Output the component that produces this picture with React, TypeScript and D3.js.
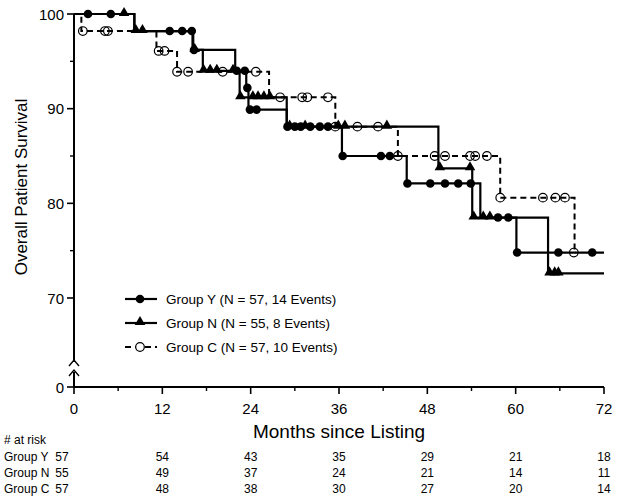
// App.tsx
import React, { useEffect, useRef } from "react";
import * as d3 from "d3";

const width = 627;
const height = 496;

// step points [month, survival %] ; each point is the level after a drop
const groupYSteps = [
  [0, 100], [8.2, 98.2], [16.1, 96.2], [21.9, 94.0], [23.4, 92.2], [23.7, 89.9],
  [28.9, 88.1], [36.4, 85.0], [45.2, 82.1], [55.2, 78.5], [60.1, 74.8], [72, 74.8],
];
const groupYCensored = [
  [1.9, 100], [5.0, 100], [13.0, 98.2], [14.7, 98.2], [16.0, 98.2], [16.3, 96.2],
  [22.1, 94.0], [23.2, 94.0], [23.55, 92.2], [23.9, 89.9], [24.8, 89.9],
  [29.0, 88.1], [30.0, 88.1], [30.8, 88.1], [32.1, 88.1], [33.4, 88.1], [34.5, 88.1],
  [36.5, 85.0], [41.7, 85.0], [42.9, 85.0],
  [45.3, 82.1], [48.4, 82.1], [50.4, 82.1], [52.2, 82.1], [53.9, 82.1],
  [57.6, 78.5], [59.0, 78.5], [60.2, 74.8], [65.8, 74.8], [70.4, 74.8],
];

const groupNSteps = [
  [0, 100], [8.2, 98.2], [16.2, 96.2], [17.5, 94.0], [22.5, 91.2], [28.9, 88.1],
  [49.5, 83.7], [54.1, 78.5], [64.4, 72.6], [72, 72.6],
];
const groupNCensored = [
  [6.8, 100], [8.4, 98.2], [9.3, 98.2], [16.4, 96.2],
  [17.6, 94.0], [18.5, 94.0], [19.4, 94.0], [21.6, 94.0],
  [22.6, 91.2], [24.3, 91.2], [25.0, 91.2], [25.8, 91.2], [26.6, 91.2],
  [29.3, 88.1], [31.4, 88.1], [35.9, 88.1], [36.8, 88.1], [42.5, 88.1],
  [49.7, 83.7], [53.8, 83.7], [54.3, 78.5], [55.6, 78.5], [56.5, 78.5],
  [64.6, 72.6], [65.3, 72.6], [65.8, 72.6],
];

const groupCSteps = [
  [0, 100], [1.0, 98.2], [11.2, 96.1], [14.0, 93.9], [26.5, 91.2], [35.5, 88.1],
  [44.0, 85.0], [57.9, 80.6], [68.0, 74.8], [68.2, 74.8],
];
const groupCCensored = [
  [1.2, 98.2], [4.2, 98.2], [4.6, 98.2], [11.5, 96.1], [12.3, 96.1],
  [14.0, 93.9], [15.5, 93.9], [20.2, 93.9], [24.7, 93.9],
  [28.0, 91.2], [31.0, 91.2], [31.7, 91.2], [34.5, 91.2],
  [35.5, 88.1], [38.5, 88.1], [41.3, 88.1],
  [44.0, 85.0], [49.0, 85.0], [50.4, 85.0], [53.8, 85.0], [54.5, 85.0], [56.1, 85.0],
  [57.9, 80.6], [63.7, 80.6], [65.4, 80.6], [66.7, 80.6], [67.9, 74.8],
];

const legendLabels = [
  "Group Y (N = 57, 14 Events)",
  "Group N (N = 55, 8 Events)",
  "Group C (N = 57, 10 Events)",
];
const xTicks = [0, 12, 24, 36, 48, 60, 72];
const xMinorTicks = [6, 18, 30, 42, 54, 66];
const yTicks = [0, 70, 80, 90, 100];
const yMinorTicks = [75, 85, 95];
const riskGroups = ["Group Y", "Group N", "Group C"];
const riskY = [57, 54, 43, 35, 29, 21, 18];
const riskN = [55, 49, 37, 24, 21, 14, 11];
const riskC = [57, 48, 38, 30, 27, 20, 14];

const font = "'Liberation Sans', Arial, Helvetica, sans-serif";

function SurvivalChart() {
  const ref = useRef<SVGSVGElement>(null);

  useEffect(() => {
    const svg = d3.select(ref.current);
    svg.selectAll("*").remove();

    const xScale = d3.scaleLinear().domain([0, 72]).range([74, 604]);
    // broken axis: 0 sits just below the break
    const yScale = d3.scaleLinear().domain([0, 70, 100]).range([387, 298, 14]);

    const line = d3
      .line<number[]>()
      .x((d) => xScale(d[0]))
      .y((d) => yScale(d[1]))
      .curve(d3.curveStepAfter);

    const g = svg.append("g");

    // Group C dashed
    g.append("path")
      .datum(groupCSteps)
      .attr("fill", "none")
      .attr("stroke", "#000")
      .attr("stroke-width", 2)
      .attr("stroke-dasharray", "6,4")
      .attr("d", line);

    // Group N
    g.append("path")
      .datum(groupNSteps)
      .attr("fill", "none")
      .attr("stroke", "#000")
      .attr("stroke-width", 2.2)
      .attr("d", line);

    // Group Y
    g.append("path")
      .datum(groupYSteps)
      .attr("fill", "none")
      .attr("stroke", "#000")
      .attr("stroke-width", 2.2)
      .attr("d", line);

    const tri = d3.symbol().type(d3.symbolTriangle).size(48);

    g.selectAll(".cC")
      .data(groupCCensored)
      .enter()
      .append("circle")
      .attr("cx", (d) => xScale(d[0]))
      .attr("cy", (d) => yScale(d[1]))
      .attr("r", 4.3)
      .attr("fill", "none")
      .attr("stroke", "#000")
      .attr("stroke-width", 1.2);

    g.selectAll(".cN")
      .data(groupNCensored)
      .enter()
      .append("path")
      .attr("d", tri)
      .attr("transform", (d) => `translate(${xScale(d[0])},${yScale(d[1]) - 1})`)
      .attr("fill", "#000");

    g.selectAll(".cY")
      .data(groupYCensored)
      .enter()
      .append("circle")
      .attr("cx", (d) => xScale(d[0]))
      .attr("cy", (d) => yScale(d[1]))
      .attr("r", 4.3)
      .attr("fill", "#000");

    // X-axis
    const xAxis = svg.append("g").attr("stroke", "#000");
    xAxis
      .append("line")
      .attr("x1", xScale(0) - 1)
      .attr("x2", xScale(72))
      .attr("y1", 387)
      .attr("y2", 387)
      .attr("stroke-width", 2);
    xAxis
      .selectAll(".xt")
      .data(xTicks)
      .enter()
      .append("line")
      .attr("x1", (d) => xScale(d))
      .attr("x2", (d) => xScale(d))
      .attr("y1", 387)
      .attr("y2", 394)
      .attr("stroke-width", 1.6);
    xAxis
      .selectAll(".xm")
      .data(xMinorTicks)
      .enter()
      .append("line")
      .attr("x1", (d) => xScale(d))
      .attr("x2", (d) => xScale(d))
      .attr("y1", 387)
      .attr("y2", 391)
      .attr("stroke-width", 1.4);
    svg
      .selectAll(".xl")
      .data(xTicks)
      .enter()
      .append("text")
      .attr("x", (d) => xScale(d))
      .attr("y", 414)
      .attr("text-anchor", "middle")
      .style("font-family", font)
      .style("font-size", "15px")
      .text((d) => d);

    // Y-axis with break
    const yAxis = svg.append("g").attr("stroke", "#000").attr("fill", "none");
    yAxis
      .append("line")
      .attr("x1", 74)
      .attr("x2", 74)
      .attr("y1", yScale(100))
      .attr("y2", 362)
      .attr("stroke-width", 2);
    yAxis
      .append("line")
      .attr("x1", 74)
      .attr("x2", 74)
      .attr("y1", 372)
      .attr("y2", 388)
      .attr("stroke-width", 2);
    yAxis
      .append("path")
      .attr("d", "M69,366 L74,360 L79,366")
      .attr("stroke-width", 1.4);
    yAxis
      .append("path")
      .attr("d", "M69,376 L74,370 L79,376")
      .attr("stroke-width", 1.4);
    yAxis
      .selectAll(".yt")
      .data(yTicks)
      .enter()
      .append("line")
      .attr("x1", 67)
      .attr("x2", 74)
      .attr("y1", (d) => yScale(d))
      .attr("y2", (d) => yScale(d))
      .attr("stroke-width", 1.6);
    yAxis
      .selectAll(".ym")
      .data(yMinorTicks)
      .enter()
      .append("line")
      .attr("x1", 70)
      .attr("x2", 74)
      .attr("y1", (d) => yScale(d))
      .attr("y2", (d) => yScale(d))
      .attr("stroke-width", 1.4);
    svg
      .selectAll(".yl")
      .data(yTicks)
      .enter()
      .append("text")
      .attr("x", 64)
      .attr("y", (d) => yScale(d) + 5.5)
      .attr("text-anchor", "end")
      .style("font-family", font)
      .style("font-size", "15px")
      .text((d) => d);

    // axis titles
    svg
      .append("text")
      .attr("x", 339)
      .attr("y", 438)
      .attr("text-anchor", "middle")
      .style("font-family", font)
      .style("font-size", "19px")
      .text("Months since Listing");
    svg
      .append("text")
      .attr("transform", "translate(27,187) rotate(-90)")
      .attr("text-anchor", "middle")
      .style("font-family", font)
      .style("font-size", "17px")
      .text("Overall Patient Survival");

    // legend
    const legend = svg.append("g");
    legendLabels.forEach((label, i) => {
      const ly = 299 + i * 24;
      legend
        .append("line")
        .attr("x1", 125)
        .attr("x2", 157)
        .attr("y1", ly)
        .attr("y2", ly)
        .attr("stroke", "#000")
        .attr("stroke-width", 2.2)
        .attr("stroke-dasharray", i === 2 ? "6,4" : null);
      if (i === 0) {
        legend.append("circle").attr("cx", 140).attr("cy", ly).attr("r", 4.3).attr("fill", "#000");
      } else if (i === 1) {
        legend
          .append("path")
          .attr("d", tri)
          .attr("transform", `translate(140,${ly - 1})`)
          .attr("fill", "#000");
      } else {
        legend
          .append("circle")
          .attr("cx", 140)
          .attr("cy", ly)
          .attr("r", 4.3)
          .attr("fill", "#fff")
          .attr("stroke", "#000")
          .attr("stroke-width", 1.2);
      }
      legend
        .append("text")
        .attr("x", 166)
        .attr("y", ly + 5)
        .style("font-family", font)
        .style("font-size", "13.5px")
        .text(label);
    });

    // number at risk table
    const table = svg.append("g").style("font-family", font).style("font-size", "12px");
    table.append("text").attr("x", 4).attr("y", 444).text("# at risk");
    [riskY, riskN, riskC].forEach((row, i) => {
      const ty = 461 + i * 16;
      table.append("text").attr("x", 4).attr("y", ty).text(riskGroups[i]);
      row.forEach((v, j) => {
        table
          .append("text")
          .attr("x", j === 0 ? 62 : xScale(xTicks[j]))
          .attr("y", ty)
          .attr("text-anchor", "middle")
          .text(v);
      });
    });
  }, []);

  return (
    <svg
      ref={ref}
      width={width}
      height={height}
      style={{ position: "fixed", left: 0, top: 0, background: "#fff" }}
    ></svg>
  );
}

export default function App() {
  return <SurvivalChart />;
}
